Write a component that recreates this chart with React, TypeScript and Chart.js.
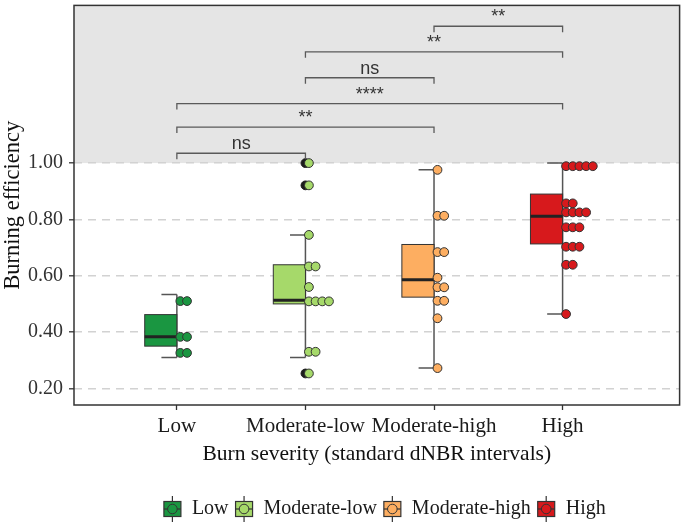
import React, { useEffect, useRef } from 'react';
import { Chart, registerables } from 'chart.js';

Chart.register(...registerables);

// ---------------- data ----------------
const categories = ['Low', 'Moderate-low', 'Moderate-high', 'High'];
const fillColors = ['#1a9641', '#a6d96a', '#fdae61', '#d7191c'];

const lowValues = [0.51, 0.51, 0.383, 0.383, 0.326, 0.326];
const moderateLowValues = [1.0, 0.921, 0.745, 0.633, 0.633, 0.56, 0.509, 0.509, 0.509, 0.509, 0.33, 0.33, 0.253];
const moderateHighValues = [0.976, 0.813, 0.813, 0.684, 0.684, 0.593, 0.559, 0.559, 0.511, 0.511, 0.449, 0.272];
const highValues = [
  0.989, 0.989, 0.989, 0.989, 0.989,
  0.857, 0.857,
  0.825, 0.825, 0.825, 0.825,
  0.772, 0.772, 0.772,
  0.703, 0.703, 0.703,
  0.639, 0.639,
  0.464,
];

const whiskerMin = [0.31, 0.31, 0.272, 0.464];
const boxQ1 = [0.35, 0.5, 0.524, 0.713];
const boxMedian = [0.383, 0.513, 0.586, 0.811];
const boxQ3 = [0.462, 0.639, 0.711, 0.89];
const whiskerMax = [0.533, 0.745, 0.976, 1.0];

const outlierGroups = [1, 1, 1];
const outlierValues = [1.0, 0.921, 0.253];

const yTickValues = [0.2, 0.4, 0.6, 0.8, 1.0];
const yTickLabels = ['0.20', '0.40', '0.60', '0.80', '1.00'];

const comparisonFrom = [0, 0, 0, 1, 1, 2];
const comparisonTo = [1, 2, 3, 2, 3, 3];
const comparisonLabels = ['ns', '**', '****', 'ns', '**', '**'];
const comparisonLevels = [1.035, 1.128, 1.211, 1.303, 1.395, 1.486];

const groupValues = [lowValues, moderateLowValues, moderateHighValues, highValues];

// ---------------- style constants ----------------
const SERIF = "'Liberation Serif', 'Times New Roman', serif";
const SANS = "'Liberation Sans', Arial, sans-serif";
const DOT_START = 0.027;
const DOT_STEP = 0.052;
const BOX_HALF = 0.25;
const CAP_LEN = 0.12;
const GRAY_LIMIT = 1.0;
const BRACKET_TIP = 0.021;

function stackedPoints(values: number[], group: number) {
  const seen: Record<string, number> = {};
  return values.map((v) => {
    const key = v.toFixed(4);
    const k = seen[key] || 0;
    seen[key] = k + 1;
    return { x: group + DOT_START + k * DOT_STEP, y: v };
  });
}

const backgroundPlugin = {
  id: 'bgRegion',
  beforeDraw(chart: any) {
    const { ctx, chartArea } = chart;
    const y = chart.scales.y;
    ctx.save();
    ctx.fillStyle = '#ffffff';
    ctx.fillRect(0, 0, chart.width, chart.height);
    const yLim = y.getPixelForValue(GRAY_LIMIT);
    ctx.fillStyle = '#e5e5e5';
    ctx.fillRect(chartArea.left, chartArea.top, chartArea.right - chartArea.left, yLim - chartArea.top);
    ctx.restore();
  },
};

const boxPlugin = {
  id: 'boxes',
  beforeDatasetsDraw(chart: any) {
    const { ctx } = chart;
    const xs = chart.scales.x;
    const ys = chart.scales.y;
    ctx.save();
    categories.forEach((_, i) => {
      const xc = xs.getPixelForValue(i);
      const xl = xs.getPixelForValue(i - BOX_HALF);
      const xcap = xs.getPixelForValue(i - CAP_LEN);
      const yMin = ys.getPixelForValue(whiskerMin[i]);
      const yMax = ys.getPixelForValue(whiskerMax[i]);
      const yQ1 = ys.getPixelForValue(boxQ1[i]);
      const yQ3 = ys.getPixelForValue(boxQ3[i]);
      const yMed = ys.getPixelForValue(boxMedian[i]);
      ctx.strokeStyle = '#555555';
      ctx.lineWidth = 1.5;
      ctx.beginPath();
      ctx.moveTo(xc, yMin);
      ctx.lineTo(xc, yMax);
      ctx.moveTo(xcap, yMin);
      ctx.lineTo(xc, yMin);
      ctx.moveTo(xcap, yMax);
      ctx.lineTo(xc, yMax);
      ctx.stroke();
      ctx.fillStyle = fillColors[i];
      ctx.fillRect(xl, yQ3, xc - xl, yQ1 - yQ3);
      ctx.strokeStyle = '#333333';
      ctx.lineWidth = 1;
      ctx.strokeRect(xl, yQ3, xc - xl, yQ1 - yQ3);
      ctx.strokeStyle = '#222222';
      ctx.lineWidth = 3;
      ctx.beginPath();
      ctx.moveTo(xl, yMed);
      ctx.lineTo(xc, yMed);
      ctx.stroke();
    });
    ctx.restore();
  },
};

function drawLegendKey(ctx: CanvasRenderingContext2D, cx: number, cy: number, color: string) {
  ctx.save();
  ctx.strokeStyle = '#333333';
  ctx.lineWidth = 1.2;
  ctx.beginPath();
  ctx.moveTo(cx, cy - 13);
  ctx.lineTo(cx, cy + 13);
  ctx.stroke();
  ctx.fillStyle = color;
  ctx.fillRect(cx - 8.5, cy - 7.5, 17, 15);
  ctx.strokeRect(cx - 8.5, cy - 7.5, 17, 15);
  ctx.beginPath();
  ctx.moveTo(cx - 8.5, cy);
  ctx.lineTo(cx + 8.5, cy);
  ctx.stroke();
  ctx.beginPath();
  ctx.arc(cx, cy, 4.8, 0, Math.PI * 2);
  ctx.fillStyle = color;
  ctx.fill();
  ctx.lineWidth = 1;
  ctx.stroke();
  ctx.restore();
}

const overlayPlugin = {
  id: 'overlay',
  afterDraw(chart: any) {
    const { ctx, chartArea } = chart;
    const xs = chart.scales.x;
    const ys = chart.scales.y;
    ctx.save();
    ctx.strokeStyle = '#5a5a5a';
    ctx.lineWidth = 1.3;
    ctx.fillStyle = '#333333';
    ctx.font = `18px ${SANS}`;
    ctx.textAlign = 'center';
    ctx.textBaseline = 'alphabetic';
    comparisonLabels.forEach((label, k) => {
      const x1 = xs.getPixelForValue(comparisonFrom[k]);
      const x2 = xs.getPixelForValue(comparisonTo[k]);
      const yl = ys.getPixelForValue(comparisonLevels[k]);
      const yt = ys.getPixelForValue(comparisonLevels[k] - BRACKET_TIP);
      ctx.beginPath();
      ctx.moveTo(x1, yt);
      ctx.lineTo(x1, yl);
      ctx.lineTo(x2, yl);
      ctx.lineTo(x2, yt);
      ctx.stroke();
      ctx.fillText(label, (x1 + x2) / 2, yl - 4);
    });
    ctx.strokeStyle = '#333333';
    ctx.lineWidth = 1.5;
    ctx.strokeRect(chartArea.left, chartArea.top, chartArea.right - chartArea.left, chartArea.bottom - chartArea.top);
    ctx.font = `20px ${SERIF}`;
    ctx.textAlign = 'left';
    ctx.textBaseline = 'middle';
    const keyW = 17;
    const gapKeyText = 11;
    const gapItem = 7;
    const widths = categories.map((c) => ctx.measureText(c).width);
    const total = categories.length * (keyW + gapKeyText) + widths.reduce((a, b) => a + b, 0) + (categories.length - 1) * gapItem;
    const centerX = (chartArea.left + chartArea.right) / 2 + 8;
    let x = centerX - total / 2;
    const ly = 509;
    categories.forEach((c, i) => {
      drawLegendKey(ctx, x + keyW / 2, ly, fillColors[i]);
      x += keyW + gapKeyText;
      ctx.fillStyle = '#1a1a1a';
      ctx.fillText(c, x, ly);
      x += widths[i] + gapItem;
    });
    ctx.restore();
  },
};

function zeroPadding(scale: any) {
  scale.paddingTop = 0;
  scale.paddingBottom = 0;
  scale.paddingLeft = 0;
  scale.paddingRight = 0;
}

export default function App() {
  const ref = useRef<HTMLCanvasElement>(null);

  useEffect(() => {
    const canvas = ref.current;
    if (!canvas) return;

    const datasets: any[] = groupValues.map((vals, i) => ({
      label: categories[i],
      data: stackedPoints(vals, i),
      backgroundColor: fillColors[i],
      borderColor: '#333333',
      borderWidth: 1,
      pointRadius: 4.4,
      order: 1,
    }));
    datasets.push({
      label: 'outliers',
      data: outlierValues.map((v, k) => ({ x: outlierGroups[k], y: v })),
      backgroundColor: '#1c1c1c',
      borderColor: '#1c1c1c',
      borderWidth: 1,
      pointRadius: 4.4,
      order: 2,
    });

    const chart = new Chart(canvas, {
      type: 'scatter',
      data: { datasets },
      plugins: [backgroundPlugin, boxPlugin, overlayPlugin],
      options: {
        animation: false,
        responsive: false,
        devicePixelRatio: 1,
        layout: { padding: { left: 0, right: 3, top: 4, bottom: 55 } },
        plugins: {
          legend: { display: false },
          tooltip: { enabled: false },
        },
        scales: {
          x: {
            type: 'linear',
            min: -0.8,
            max: 3.91,
            afterBuildTicks: (scale: any) => {
              scale.ticks = categories.map((_, i) => ({ value: i }));
            },
            afterFit: (scale: any) => {
              scale.height = 62;
              zeroPadding(scale);
            },
            border: { display: false },
            grid: {
              drawOnChartArea: false,
              drawTicks: true,
              tickLength: 5,
              tickColor: '#333333',
              tickWidth: 1.3,
            },
            ticks: {
              autoSkip: false,
              maxRotation: 0,
              padding: 4,
              color: '#1a1a1a',
              font: { family: SERIF, size: 21 },
              callback: (_v: any, idx: number) => categories[idx],
            },
            title: {
              display: true,
              text: 'Burn severity (standard dNBR intervals)',
              color: '#111111',
              font: { family: SERIF, size: 21.5 },
              padding: { top: 0, bottom: 0 },
            },
          },
          y: {
            type: 'linear',
            min: 0.141,
            max: 1.56,
            afterBuildTicks: (scale: any) => {
              scale.ticks = yTickValues.map((v) => ({ value: v }));
            },
            afterFit: (scale: any) => {
              scale.width = 74;
              zeroPadding(scale);
            },
            border: { display: false, dash: [8, 6] },
            grid: {
              color: '#d2d2d2',
              lineWidth: 1.6,
              drawTicks: true,
              tickLength: 5,
              tickColor: '#333333',
              tickWidth: 1.3,
              tickBorderDash: [],
            },
            ticks: {
              autoSkip: false,
              padding: 6,
              color: '#333333',
              font: { family: SERIF, size: 20 },
              callback: (_v: any, idx: number) => yTickLabels[idx],
            },
            title: {
              display: true,
              text: 'Burning efficiency',
              color: '#111111',
              font: { family: SERIF, size: 22.5 },
              padding: { top: 0, bottom: 0 },
            },
          },
        },
      } as any,
    });
    return () => chart.destroy();
  }, []);

  return (
    <div style={{ position: 'fixed', left: 0, top: 0, width: 685, height: 522, background: '#ffffff' }}>
      <canvas ref={ref} width={685} height={522} style={{ display: 'block', width: 685, height: 522 }} />
    </div>
  );
}
